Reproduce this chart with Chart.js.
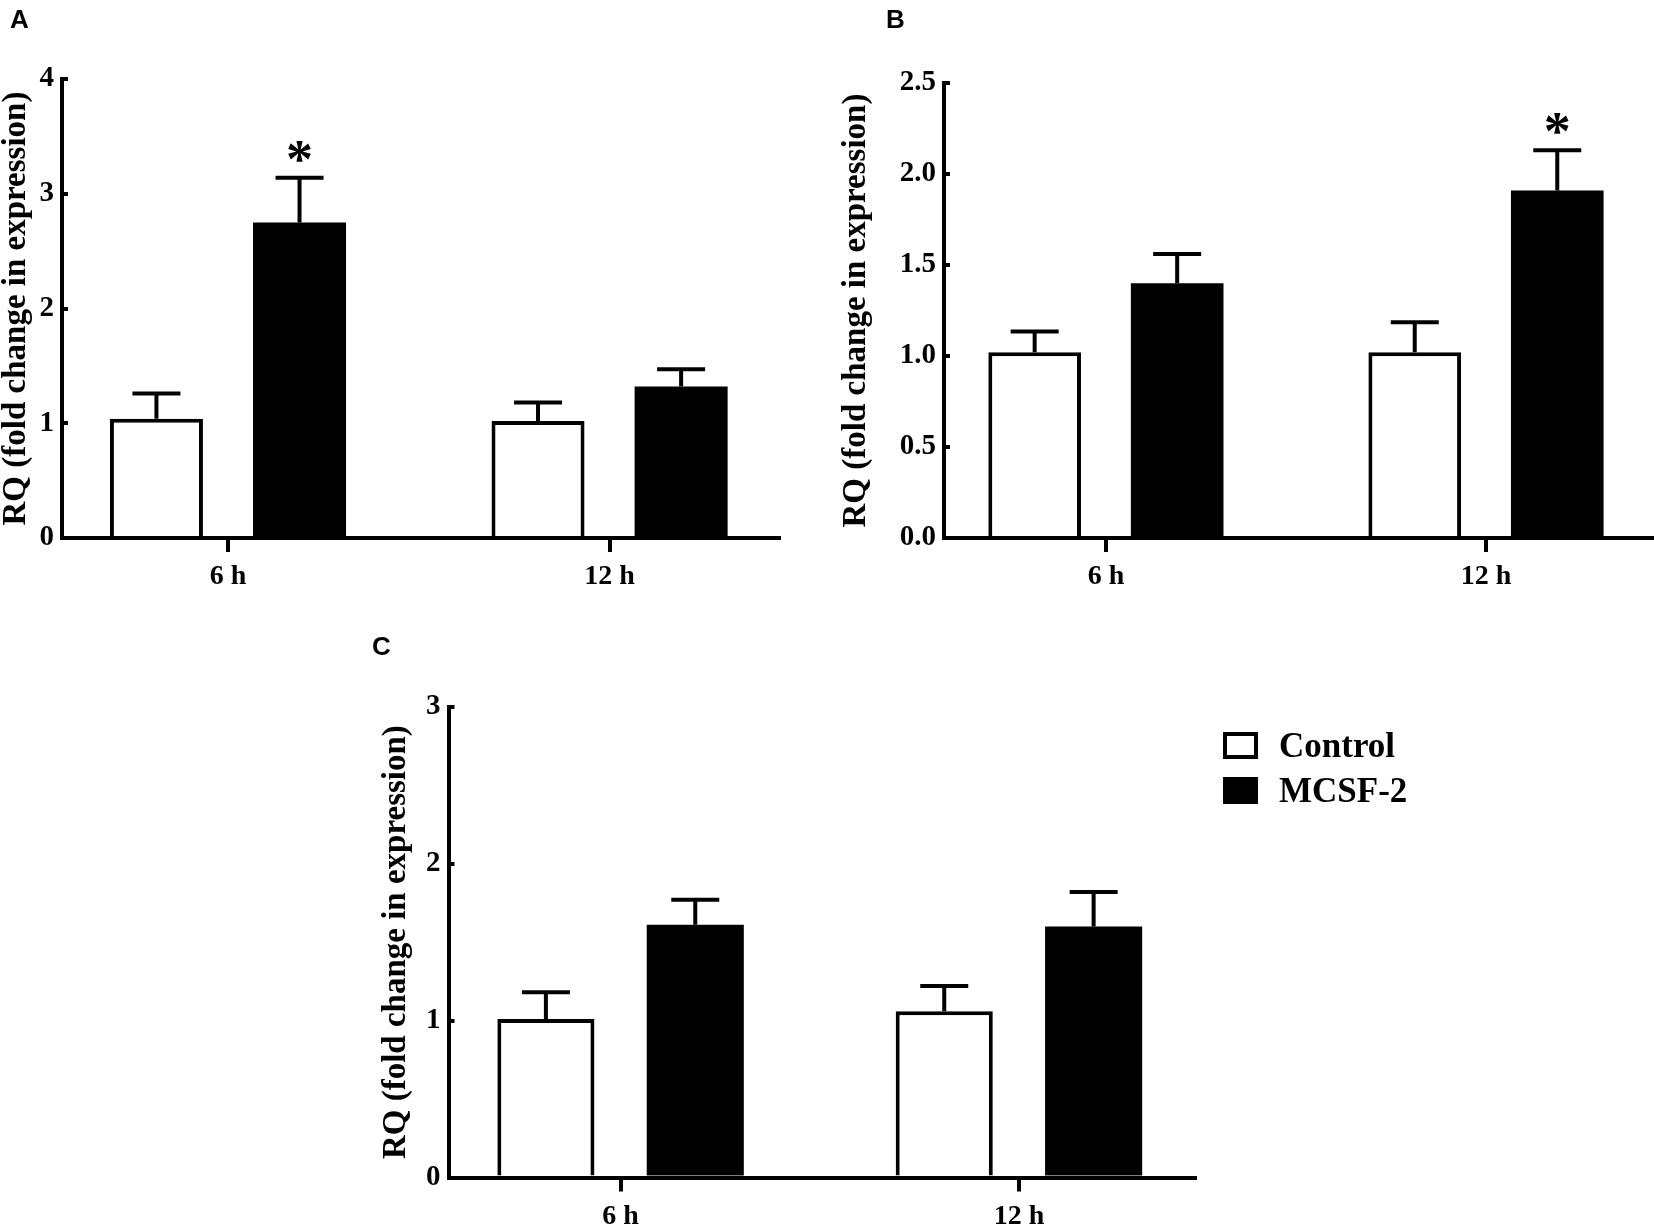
<!DOCTYPE html>
<html>
<head>
<meta charset="utf-8">
<script src="https://cdn.jsdelivr.net/npm/chart.js@4.4.1/dist/chart.umd.min.js"></script>
<style>
html,body{margin:0;padding:0;background:#fff;}
#wrap{position:relative;width:1654px;height:1224px;overflow:hidden;background:#fff;}
canvas{position:absolute;left:0;top:0;}
.lbl{position:absolute;font-family:"Liberation Sans",Arial,sans-serif;font-weight:bold;font-size:26px;line-height:26px;color:#000;}
</style>
</head>
<body>
<div id="wrap">
<canvas id="cA" width="1654" height="1224"></canvas>
<canvas id="cB" width="1654" height="1224"></canvas>
<canvas id="cC" width="1654" height="1224"></canvas>
<div class="lbl" style="left:10px;top:6px">A</div>
<div class="lbl" style="left:886px;top:6px">B</div>
<div class="lbl" style="left:372px;top:633px">C</div>
</div>
<script>
// ---- data ----
const CATEGORIES = ['6 h', '12 h'];
const SERIES = ['Control', 'MCSF-2'];
const Y_TITLE = 'RQ (fold change in expression)';

const A_CONTROL = [1.04, 1.02];
const A_CONTROL_ERR = [0.22, 0.16];
const A_MCSF = [2.75, 1.32];
const A_MCSF_ERR = [0.39, 0.15];
const A_MCSF_SIG = [true, false];
const A_YTICKS = [0, 1, 2, 3, 4];

const B_CONTROL = [1.02, 1.02];
const B_CONTROL_ERR = [0.115, 0.165];
const B_MCSF = [1.40, 1.91];
const B_MCSF_ERR = [0.16, 0.22];
const B_MCSF_SIG = [false, true];
const B_YTICKS = [0, 0.5, 1.0, 1.5, 2.0, 2.5];

const C_CONTROL = [1.01, 1.06];
const C_CONTROL_ERR = [0.17, 0.16];
const C_MCSF = [1.61, 1.60];
const C_MCSF_ERR = [0.16, 0.22];
const C_MCSF_SIG = [false, false];
const C_YTICKS = [0, 1, 2, 3];

const NO_SIG = [false, false];

// ---- style ----
const W = 1654, H = 1224;
const SERIF = '"Liberation Serif", "Times New Roman", serif';

const errPlugin = {
  id: 'errbars',
  afterDatasetsDraw(chart, args, opts) {
    const ctx = chart.ctx;
    const ys = chart.scales.y;
    chart.data.datasets.forEach((ds, di) => {
      const meta = chart.getDatasetMeta(di);
      meta.data.forEach((bar, i) => {
        const v = ds.data[i].y;
        const e = opts.errs[di][i];
        const yTop = ys.getPixelForValue(v);
        const yCap = ys.getPixelForValue(v + e);
        ctx.save();
        ctx.strokeStyle = '#000';
        ctx.lineWidth = 4;
        ctx.beginPath();
        ctx.moveTo(bar.x, yTop);
        ctx.lineTo(bar.x, yCap);
        ctx.moveTo(bar.x - opts.cap / 2, yCap);
        ctx.lineTo(bar.x + opts.cap / 2, yCap);
        ctx.stroke();
        if (opts.sig[di][i]) {
          ctx.fillStyle = '#000';
          ctx.font = 'bold 54px ' + SERIF;
          ctx.textAlign = 'center';
          ctx.textBaseline = 'alphabetic';
          ctx.fillText('*', bar.x, yCap - 1);
        }
        ctx.restore();
      });
    });
  }
};

const legendPlugin = {
  id: 'boxlegend',
  afterDraw(chart, args, opts) {
    if (!opts || !opts.rows) return;
    const ctx = chart.ctx;
    chart.data.datasets.forEach((ds, di) => {
      const top = opts.rows[di];
      ctx.save();
      if (ds.backgroundColor === '#000000') {
        ctx.fillStyle = '#000';
        ctx.fillRect(opts.x, top, opts.w, opts.h);
      } else {
        ctx.fillStyle = '#fff';
        ctx.fillRect(opts.x, top, opts.w, opts.h);
        ctx.strokeStyle = '#000';
        ctx.lineWidth = 4;
        ctx.strokeRect(opts.x + 2, top + 2, opts.w - 4, opts.h - 4);
      }
      ctx.fillStyle = '#000';
      ctx.font = 'bold 35px ' + SERIF;
      ctx.textAlign = 'left';
      ctx.textBaseline = 'alphabetic';
      ctx.fillText(ds.label, opts.textX, top + opts.baseOff);
      ctx.restore();
    });
  }
};

function buildPanel(id, p) {
  const yTicks = p.yTicks;
  const XH = p.xh;
  const cfg = {
    type: 'bar',
    data: {
      datasets: [
        {
          label: SERIES[0],
          data: p.ctrl.map((v, i) => ({x: i, y: v})),
          backgroundColor: '#ffffff', borderColor: '#000000', borderWidth: 4,
          borderSkipped: 'start', categoryPercentage: 0.75, barPercentage: 0.65
        },
        {
          label: SERIES[1],
          data: p.mcsf.map((v, i) => ({x: i, y: v})),
          backgroundColor: '#000000', borderColor: '#000000', borderWidth: 0,
          categoryPercentage: 0.75, barPercentage: 0.65
        }
      ]
    },
    options: {
      responsive: false, animation: false, devicePixelRatio: 1,
      layout: {padding: {left: p.boxLeft, right: W - p.right, top: p.top, bottom: Math.max(0, H - p.bottom - XH)}},
      plugins: {
        legend: {display: false},
        tooltip: {enabled: false},
        errbars: {errs: [p.ctrlErr, p.mcsfErr], sig: [NO_SIG, p.sig], cap: 48},
        boxlegend: p.legend || false
      },
      scales: {
        x: {
          type: 'linear', min: p.xmin, max: p.xmax, offset: false,
          afterBuildTicks: (s) => { s.ticks = CATEGORIES.map((c, i) => ({value: i})); },
          afterFit: (s) => { s.height = XH; },
          ticks: {
            autoSkip: false, maxRotation: 0, minRotation: 0,
            callback: (v) => CATEGORIES[v],
            font: {family: SERIF, size: 28, weight: 'bold'}, color: '#000', padding: 8
          },
          grid: {display: true, drawOnChartArea: false, drawTicks: true, tickLength: 14, lineWidth: 4, color: '#000', offset: false},
          border: {display: true, width: 4, color: '#000'}
        },
        y: {
          type: 'linear', min: 0, max: yTicks[yTicks.length - 1],
          afterBuildTicks: (s) => { s.ticks = yTicks.map(v => ({value: v})); },
          afterFit: (s) => { s.width = p.left - p.boxLeft; },
          ticks: {
            callback: (v) => Number(v).toFixed(p.dec),
            font: {family: SERIF, size: 29, weight: 'bold'}, color: '#000', padding: 14
          },
          grid: {display: true, drawOnChartArea: false, drawTicks: true, tickLength: -6, lineWidth: 4, color: '#000'},
          border: {display: true, width: 4, color: '#000'},
          title: {
            display: true, text: Y_TITLE, color: '#000', padding: 0,
            font: {family: SERIF, size: 33, weight: 'bold', lineHeight: 1}
          }
        }
      }
    },
    plugins: [errPlugin, legendPlugin]
  };
  return new Chart(document.getElementById(id), cfg);
}

buildPanel('cA', {
  ctrl: A_CONTROL, ctrlErr: A_CONTROL_ERR, mcsf: A_MCSF, mcsfErr: A_MCSF_ERR, sig: A_MCSF_SIG,
  yTicks: A_YTICKS, dec: 0, xh: 70,
  boxLeft: 0, left: 62, right: 779, top: 79, bottom: 538, xmin: -0.435, xmax: 1.444
});
buildPanel('cB', {
  ctrl: B_CONTROL, ctrlErr: B_CONTROL_ERR, mcsf: B_MCSF, mcsfErr: B_MCSF_ERR, sig: B_MCSF_SIG,
  yTicks: B_YTICKS, dec: 1, xh: 70,
  boxLeft: 839.5, left: 944, right: 1654, top: 83, bottom: 538, xmin: -0.426, xmax: 1.442
});
buildPanel('cC', {
  ctrl: C_CONTROL, ctrlErr: C_CONTROL_ERR, mcsf: C_MCSF, mcsfErr: C_MCSF_ERR, sig: C_MCSF_SIG,
  yTicks: C_YTICKS, dec: 0, xh: 46.5,
  boxLeft: 379.5, left: 448.5, right: 1195, top: 706.7, bottom: 1177.5, xmin: -0.432, xmax: 1.442,
  legend: {x: 1223, rows: [732, 777], w: 35, h: 27, textX: 1279, baseOff: 25}
});
</script>
</body>
</html>
